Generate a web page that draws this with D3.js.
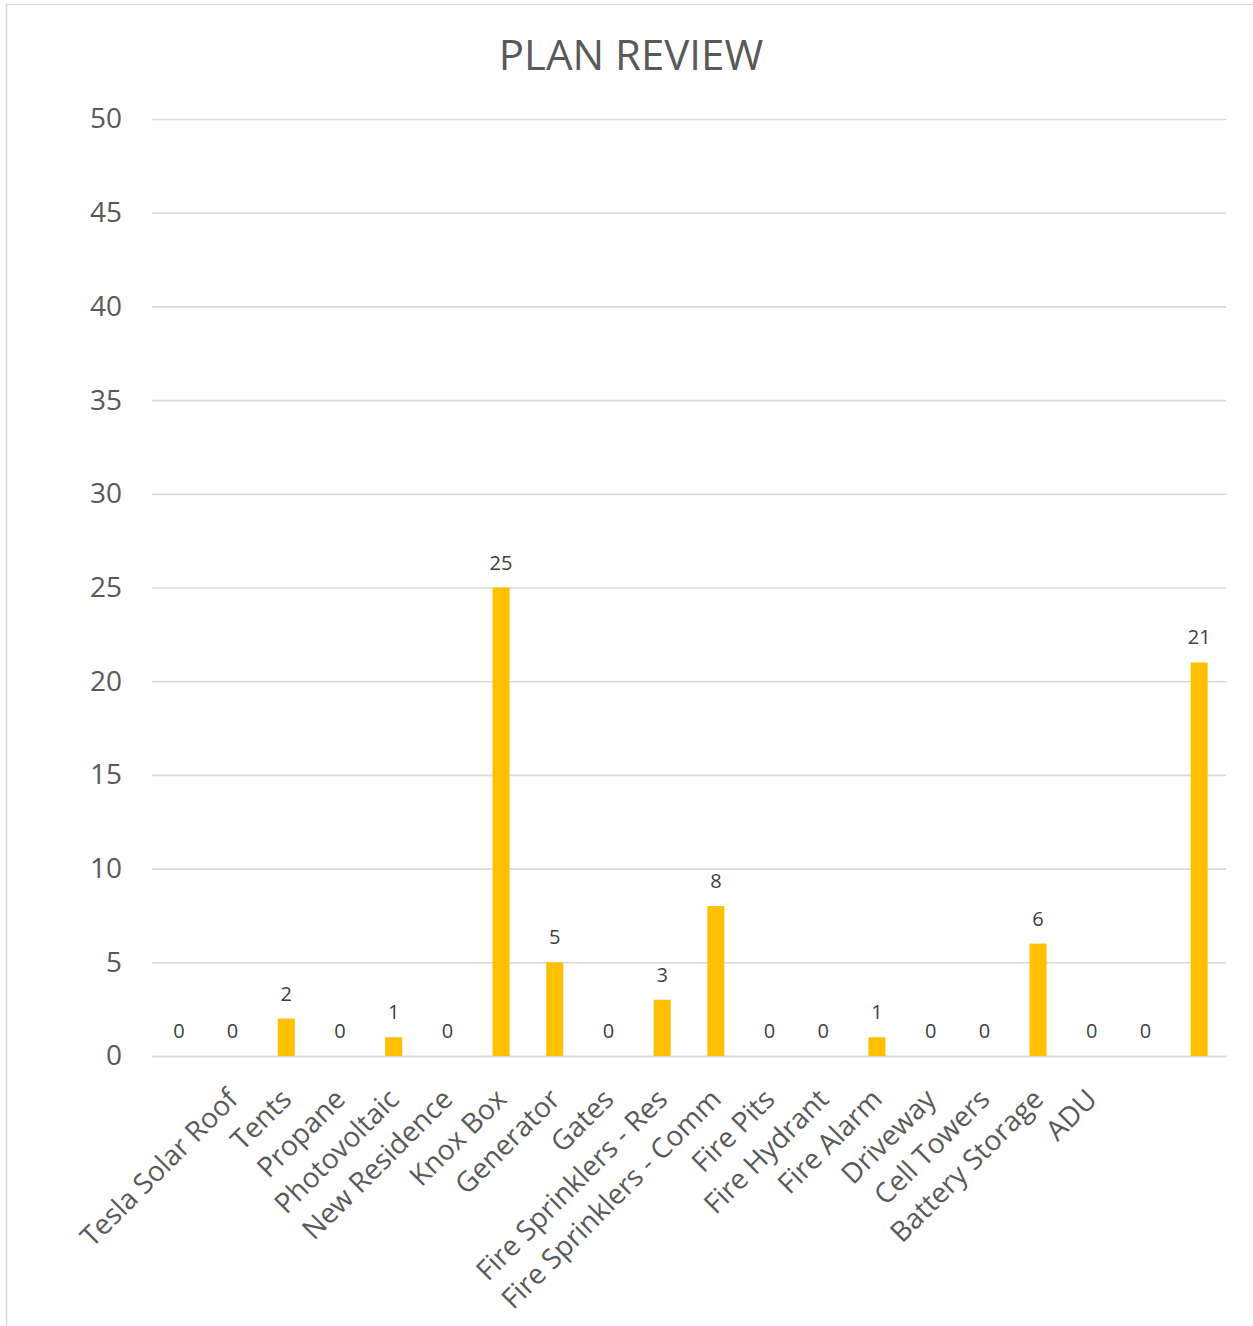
<!DOCTYPE html>
<html>
<head>
<meta charset="utf-8">
<script src="https://cdn.jsdelivr.net/npm/d3@7"></script>
<style>
  body { margin: 0; background: #fff; }
  svg { display: block; }
  text { font-family: "Open Sans", sans-serif; }
</style>
</head>
<body>
<svg id="chart" width="1253" height="1326"></svg>
<script>
// Plan review counts by permit type
const title = "PLAN REVIEW";
const categories = ["", "Tesla Solar Roof", "Tents", "Propane", "Photovoltaic", "New Residence",
  "Knox Box", "Generator", "Gates", "Fire Sprinklers - Res", "Fire Sprinklers - Comm",
  "Fire Pits", "Fire Hydrant", "Fire Alarm", "Driveway", "Cell Towers", "Battery Storage",
  "ADU", "", ""];
const values = [0, 0, 2, 0, 1, 0, 25, 5, 0, 3, 8, 0, 0, 1, 0, 0, 6, 0, 0, 21];
const yTicks = [0, 5, 10, 15, 20, 25, 30, 35, 40, 45, 50];

const W = 1253, H = 1326;
const plot = { left: 152, right: 1226, top: 119, bottom: 1056 };

const svg = d3.select("#chart");

// chart frame (left and top edges visible)
svg.append("path")
  .attr("d", `M6.5,${H} L6.5,4.5 L${W},4.5`)
  .attr("fill", "none")
  .attr("stroke", "#d9d9d9")
  .attr("stroke-width", 1.5);

const x = d3.scaleBand()
  .domain(d3.range(values.length))
  .range([plot.left, plot.right])
  .paddingInner(0.683)
  .paddingOuter(0.3415);

const y = d3.scaleLinear()
  .domain([0, 50])
  .range([plot.bottom, plot.top]);

// title
svg.append("text")
  .attr("x", 631)
  .attr("y", 70)
  .attr("text-anchor", "middle")
  .attr("font-size", 42)
  .attr("fill", "#595959")
  .text(title);

// value axis with gridlines
const yAxis = svg.append("g")
  .attr("transform", `translate(${plot.left},0)`)
  .call(d3.axisLeft(y)
    .tickValues(yTicks)
    .tickSize(-(plot.right - plot.left))
    .tickPadding(30)
    .tickFormat(d3.format("d")));
yAxis.select(".domain").remove();
yAxis.selectAll(".tick line")
  .attr("stroke", "#d9d9d9")
  .attr("stroke-width", 1.6);
yAxis.selectAll(".tick text")
  .attr("font-size", 28)
  .attr("fill", "#595959");

// category axis with rotated labels
const xAxis = svg.append("g")
  .attr("transform", `translate(0,${plot.bottom})`)
  .call(d3.axisBottom(x)
    .tickSize(0)
    .tickFormat(i => categories[i]));
xAxis.select(".domain")
  .attr("stroke", "#d9d9d9")
  .attr("stroke-width", 1.6);
xAxis.selectAll(".tick text")
  .attr("x", 0)
  .attr("y", 0)
  .attr("dy", 0)
  .attr("text-anchor", "end")
  .attr("transform", "translate(7,45) rotate(-45)")
  .attr("font-size", 28)
  .attr("fill", "#595959");

// bars
svg.append("g")
  .selectAll("rect")
  .data(values)
  .join("rect")
  .attr("x", (d, i) => x(i))
  .attr("y", d => y(d))
  .attr("width", x.bandwidth())
  .attr("height", d => y(0) - y(d))
  .attr("fill", "#ffc000");

// value labels
svg.append("g")
  .selectAll("text")
  .data(values)
  .join("text")
  .attr("x", (d, i) => x(i) + x.bandwidth() / 2)
  .attr("y", d => y(d) - 18)
  .attr("text-anchor", "middle")
  .attr("font-size", 20)
  .attr("fill", "#404040")
  .text(d => d);
</script>
</body>
</html>
